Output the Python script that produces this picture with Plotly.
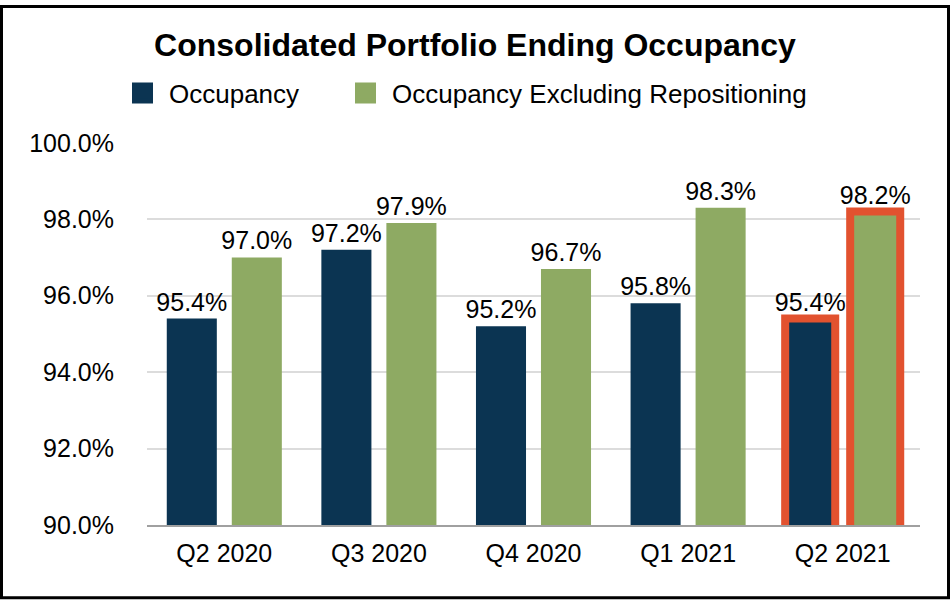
import plotly.graph_objects as go

quarters = ["Q2 2020", "Q3 2020", "Q4 2020", "Q1 2021", "Q2 2021"]
occupancy = [95.4, 97.2, 95.2, 95.8, 95.4]
occupancy_ex_repos = [97.0, 97.9, 96.7, 98.3, 98.2]
highlight = [False, False, False, False, True]
series_names = ["Occupancy", "Occupancy Excluding Repositioning"]

NAVY = "#0b3452"
GREEN = "#8eaa63"
HIGHLIGHT = "#e2522f"
FONT = "Liberation Sans, Arial, sans-serif"

line_colors = [HIGHLIGHT if h else "rgba(0,0,0,0)" for h in highlight]
line_widths = [8 if h else 0 for h in highlight]

fig = go.Figure()
for name, vals, col in [(series_names[0], occupancy, NAVY),
                        (series_names[1], occupancy_ex_repos, GREEN)]:
    fig.add_trace(go.Bar(
        name=name, x=quarters, y=vals, showlegend=False, legendgroup=name,
        marker=dict(color=col, line=dict(color=line_colors, width=line_widths)),
        text=[f"{v:.1f}%" for v in vals], textposition="outside",
        constraintext="none",
        textfont=dict(size=25, color="black", family=FONT), cliponaxis=False,
    ))
# legend proxies (larger square swatches), one legend box each
for name, col, leg in [(series_names[0], NAVY, "legend"), (series_names[1], GREEN, "legend2")]:
    fig.add_trace(go.Scatter(
        name=name, x=[None], y=[None], mode="markers", legendgroup=name, legend=leg,
        marker=dict(symbol="square", size=16, color=col, line=dict(color=col, width=5)),
        hoverinfo="skip",
    ))

legend_common = dict(orientation="h", xref="container", yref="container",
                     xanchor="left", y=1 - 93 / 600, yanchor="middle",
                     font=dict(size=26, family=FONT), itemwidth=43)

fig.update_layout(
    width=950, height=600,
    margin=dict(l=147, r=30, t=139, b=75),
    paper_bgcolor="white", plot_bgcolor="white",
    font=dict(family=FONT, size=25, color="black"),
    barmode="group", bargap=0.159, bargroupgap=0.23,
    title=dict(text="<b>Consolidated Portfolio Ending Occupancy</b>",
               x=475 / 950, xref="container", xanchor="center", y=1 - 45 / 600, yanchor="middle",
               font=dict(size=32, family=FONT, color="black")),
    legend=dict(x=116 / 950, **legend_common),
    legend2=dict(x=339 / 950, **legend_common),
    showlegend=True,
)
fig.update_yaxes(range=[90, 100], dtick=2, tickformat=".1f", ticksuffix="%",
                 showgrid=True, gridcolor="#dcdcdc", gridwidth=1.5,
                 zeroline=False, showline=False, ticks="",
                 ticklabelstandoff=32, tickfont=dict(size=25))
fig.update_xaxes(type="category", showline=True, linecolor="#a0a0a0", linewidth=2,
                 ticks="", ticklabelstandoff=5, tickfont=dict(size=25))

# outer frame of the image
L, T, PW, PH = 147, 139, 773, 386
def px_to_paper_x(px):
    return (px - L) / PW
def px_to_paper_y(py):
    return (T + PH - py) / PH
fig.add_shape(type="rect", xref="paper", yref="paper",
              x0=px_to_paper_x(1.5), x1=px_to_paper_x(948.5),
              y0=px_to_paper_y(598.5), y1=px_to_paper_y(1.5),
              line=dict(color="black", width=3), fillcolor="rgba(0,0,0,0)", layer="above")

fig.write_html("out.html", config={"displayModeBar": False},
               post_script="document.body.style.margin='0';document.body.style.overflow='hidden';")
